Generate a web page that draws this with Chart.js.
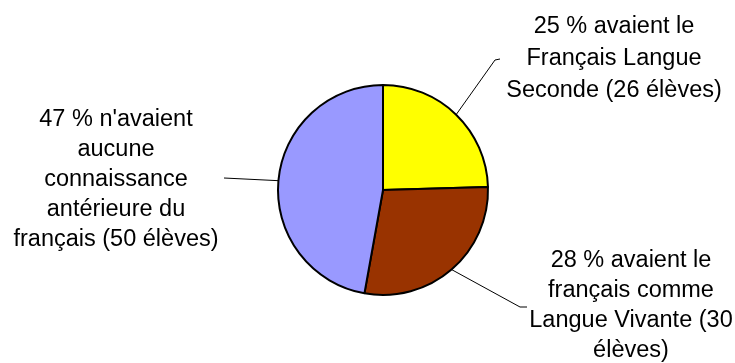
<!DOCTYPE html>
<html>
<head>
<meta charset="utf-8">
<script src="https://cdn.jsdelivr.net/npm/chart.js@4/dist/chart.umd.min.js"></script>
<style>
    html, body { margin: 0; padding: 0; background: #fff; }
    #wrap { width: 735px; height: 363px; }
</style>
</head>
<body>
<div id="wrap"><canvas id="pie-chart"></canvas></div>
<script>
// data
const categories = ['Français Langue Seconde', 'Langue Vivante', 'Aucune connaissance'];
const eleves = [26, 30, 50];
const percents = [25, 28, 47];
const labelLines = [
    ['25 % avaient le', 'Français Langue', 'Seconde (26 élèves)'],
    ['28 % avaient le', 'français comme', 'Langue Vivante (30', 'élèves)'],
    ['47 % n\'avaient', 'aucune', 'connaissance', 'antérieure du', 'français (50 élèves)']
];
const sliceColors = ['#ffff00', '#993300', '#9999ff'];

// where each callout sits (elbow, end of leader, text centre / first baseline)
const callouts = [
    { elbow: [495, 60], end: [500, 59], textX: 614, textY: 33, lineH: 32 },
    { elbow: [520, 307], end: [527, 307], textX: 631, textY: 267, lineH: 30 },
    { elbow: [224, 178], end: [224, 178], textX: 116, textY: 126, lineH: 30 }
];

const calloutPlugin = {
    id: 'callouts',
    afterDatasetsDraw(chart) {
        const ctx = chart.ctx;
        const arcs = chart.getDatasetMeta(0).data;
        ctx.save();
        arcs.forEach(function (arc, i) {
            const p = arc.getProps(['x', 'y', 'startAngle', 'endAngle', 'outerRadius'], true);
            const mid = (p.startAngle + p.endAngle) / 2;
            const sx = p.x + Math.cos(mid) * p.outerRadius;
            const sy = p.y + Math.sin(mid) * p.outerRadius;
            const c = callouts[i];
            ctx.strokeStyle = '#000';
            ctx.lineWidth = 1;
            ctx.beginPath();
            ctx.moveTo(sx, sy);
            ctx.lineTo(c.elbow[0], c.elbow[1]);
            ctx.lineTo(c.end[0], c.end[1]);
            ctx.stroke();

            ctx.fillStyle = '#000';
            ctx.font = '23.5px "Liberation Sans", Arial, sans-serif';
            ctx.textAlign = 'center';
            ctx.textBaseline = 'alphabetic';
            labelLines[i].forEach(function (line, j) {
                ctx.fillText(line, c.textX, c.textY + j * c.lineH);
            });
        });
        ctx.restore();
    }
};

new Chart(document.getElementById('pie-chart'), {
    type: 'pie',
    data: {
        labels: categories,
        datasets: [
            {
                data: eleves,
                backgroundColor: sliceColors,
                borderColor: '#000',
                borderWidth: 2
            }
        ]
    },
    options: {
        responsive: true,
        maintainAspectRatio: false,
        animation: false,
        radius: 105,
        plugins: {
            legend: { display: false },
            title: { display: false },
            tooltip: { enabled: false }
        },
        layout: {
            padding: {
                left: 131,
                right: 100,
                top: 67,
                bottom: 50
            }
        }
    },
    plugins: [calloutPlugin]
});
</script>
</body>
</html>
